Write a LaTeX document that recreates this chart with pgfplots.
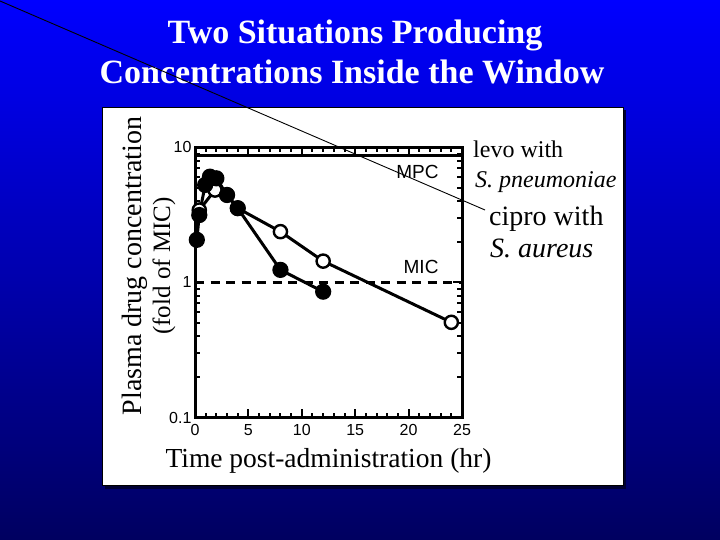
\documentclass[border=0pt]{standalone}
\usepackage{fontspec}
\setmainfont{Liberation Serif}
\newfontfamily\arial{Liberation Sans}
\usepackage{pgfplots}
\pgfplotsset{compat=1.18}
\definecolor{slideTop}{RGB}{0,0,255}
\definecolor{slideMid}{RGB}{0,0,185}
\definecolor{slideBot}{RGB}{0,0,96}

\begin{document}
\begin{tikzpicture}[x=1bp,y=1bp]
\useasboundingbox (0,0) rectangle (720,540);
% slide background
\shade[top color=slideTop, middle color=slideMid, bottom color=slideBot] (0,0) rectangle (720,540);
% white panel with shadow
\fill[black!80!blue] (105,51) rectangle (626,430);
\filldraw[fill=white, draw=black, line width=0.8bp] (102,55) rectangle (623,433);

% title
\node[anchor=base, text=white, font=\fontsize{34bp}{34bp}\selectfont\bfseries] at (355,496.7) {Two Situations Producing};
\node[anchor=base, text=white, font=\fontsize{34bp}{34bp}\selectfont\bfseries] at (352,456.7) {Concentrations Inside the Window};

% y label, two lines
\node[rotate=90, anchor=base, font=\fontsize{28bp}{28bp}\selectfont] at (141,274) {Plasma drug concentration};
\node[rotate=90, anchor=base, font=\fontsize{25bp}{25bp}\selectfont] at (170,274) {(fold of MIC)};

\begin{axis}[
    at={(195bp,122.5bp)}, anchor=south west,
    width=267bp, height=270bp, scale only axis,
    xmin=0, xmax=25,
    ymode=log, ymin=0.1, ymax=10,
    xtick={0,5,...,25}, minor x tick num=4,
    ytick={0.1,1,10}, yticklabels={0.1,1,10},
    minor ytick={0.2,0.3,0.4,0.5,0.6,0.7,0.8,0.9,2,3,4,5,6,7,8,9},
    tick align=inside,
    major tick length=9bp, minor tick length=5bp,
    axis line style={line width=3bp},
    every tick/.style={black, line width=2bp},
    ticklabel style={font=\arial\fontsize{16bp}{16bp}\selectfont},
    /pgf/number format/assume math mode=true,
    xticklabel style={yshift=-3bp},
    xlabel={Time post-administration (hr)},
    xlabel style={font=\fontsize{27.5bp}{27.5bp}\selectfont,
        at={(axis description cs:0.5,0)}, anchor=base, yshift=-50.5bp},
    clip=false,
]
% MPC and MIC levels
\addplot[line width=3bp] coordinates {(0,8.7) (25,8.7)};
\addplot[line width=2.8bp, dash pattern=on 9bp off 6.5bp] coordinates {(0,1) (25,1)};

% open circles
\addplot[line width=3bp, mark=*, mark size=6.6bp,
    mark options={fill=white, draw=black, line width=2.4bp, solid}] coordinates {
    (0.4,3.44) (1.87,4.84) (3.0,4.45) (4.0,3.55) (8.0,2.38) (12.0,1.44) (24.0,0.507)
};
% filled circles
\addplot[line width=3bp, mark=*, mark size=6.6bp,
    mark options={fill=black, draw=black, solid}] coordinates {
    (0.17,2.07) (0.4,3.16) (0.95,5.28) (1.4,6.08) (2.0,5.91) (3.0,4.45) (4.0,3.55) (8.0,1.24) (12.0,0.855)
};
\end{axis}

% line labels
\node[anchor=base east, font=\arial\fontsize{19bp}{19bp}\selectfont] at (442,361.7) {MPC};
\node[anchor=base east, font=\arial\fontsize{19bp}{19bp}\selectfont] at (442,266.7) {MIC};

% series annotations
\node[anchor=base west, inner sep=0pt, font=\fontsize{24bp}{24bp}\selectfont] at (473,382) {levo with};
\node[anchor=base west, inner sep=0pt, font=\fontsize{24bp}{24bp}\selectfont\itshape] at (475,352) {S. pneumoniae};
\node[anchor=base west, inner sep=0pt, font=\fontsize{28bp}{28bp}\selectfont] at (489,314) {cipro with};
\node[anchor=base west, inner sep=0pt, font=\fontsize{28bp}{28bp}\selectfont\itshape] at (490,282) {S. aureus};

% pointer line
\draw[black, line width=0.9bp] (0,539) -- (485,330);
\end{tikzpicture}
\end{document}
